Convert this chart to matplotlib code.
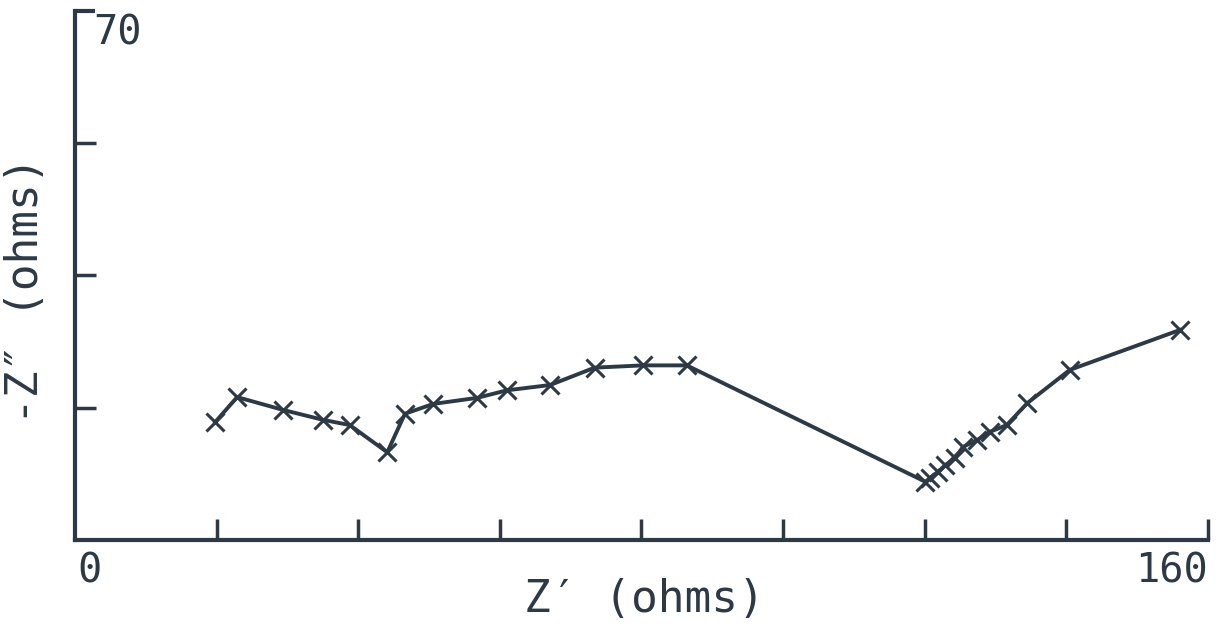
import matplotlib
matplotlib.use("Agg")
import matplotlib.pyplot as plt

# Data (Nyquist-type plot)
z_real = [19.8, 22.9, 29.4, 35.0, 38.8, 44.1, 46.6, 50.6, 56.8, 61.0, 67.1,
          73.4, 80.2, 86.4, 120.1, 120.8, 121.9, 122.9, 124.3, 125.4, 127.4,
          129.2, 131.6, 134.5, 140.5, 156.1]
z_imag = [15.6, 18.9, 17.2, 15.9, 15.2, 11.6, 16.7, 18.0, 18.8, 19.8, 20.5,
          22.8, 23.1, 23.1, 7.7, 8.2, 9.0, 9.9, 10.8, 12.3, 13.2,
          14.3, 15.2, 18.1, 22.5, 27.8]
x_ticks = [20, 40, 60, 80, 100, 120, 140, 160]
y_ticks = [17.5, 35, 52.5]
x_label = "Z\u2032 (ohms)"
y_label = "-Z\u2033 (ohms)"

ink = "#2d3a46"
font = "DejaVu Sans Mono"

fig = plt.figure(figsize=(12.2, 6.3), dpi=100)
ax = fig.add_axes([0.0615, 0.143, 0.9285, 0.8395])
ax.set_xlim(0, 160)
ax.set_ylim(0, 70)

ax.plot(z_real, z_imag, color=ink, lw=2.8, marker="x", ms=13, mew=2.2,
        solid_joinstyle="round")

for s in ["top", "right"]:
    ax.spines[s].set_visible(False)
for s in ["left", "bottom"]:
    ax.spines[s].set_color(ink)
    ax.spines[s].set_linewidth(3)

ax.set_xticks(x_ticks)
ax.set_yticks(y_ticks)
ax.set_xticklabels([])
ax.set_yticklabels([])
ax.tick_params(direction="in", length=15, width=2.5, color=ink)
ax.spines["left"].set_bounds(0, 70)

# small cap at top of y axis
ax.plot([0, 2.8], [70, 70], color=ink, lw=3, clip_on=False,
        solid_capstyle="butt")

ax.text(2.6, 69.7, "70", ha="left", va="top", fontsize=29, color=ink,
        family=font)
ax.text(0.3, -1.6, "0", ha="left", va="top", fontsize=29, color=ink,
        family=font)
ax.text(160, -1.6, "160", ha="right", va="top", fontsize=29, color=ink,
        family=font)

fig.text(0.528, 0.048, x_label, ha="center", va="center", fontsize=32,
         color=ink, family=font)
fig.text(0.021, 0.54, y_label, ha="center", va="center", fontsize=32,
         color=ink, family=font, rotation=90)

fig.savefig("out.png", dpi=100, facecolor="white")
